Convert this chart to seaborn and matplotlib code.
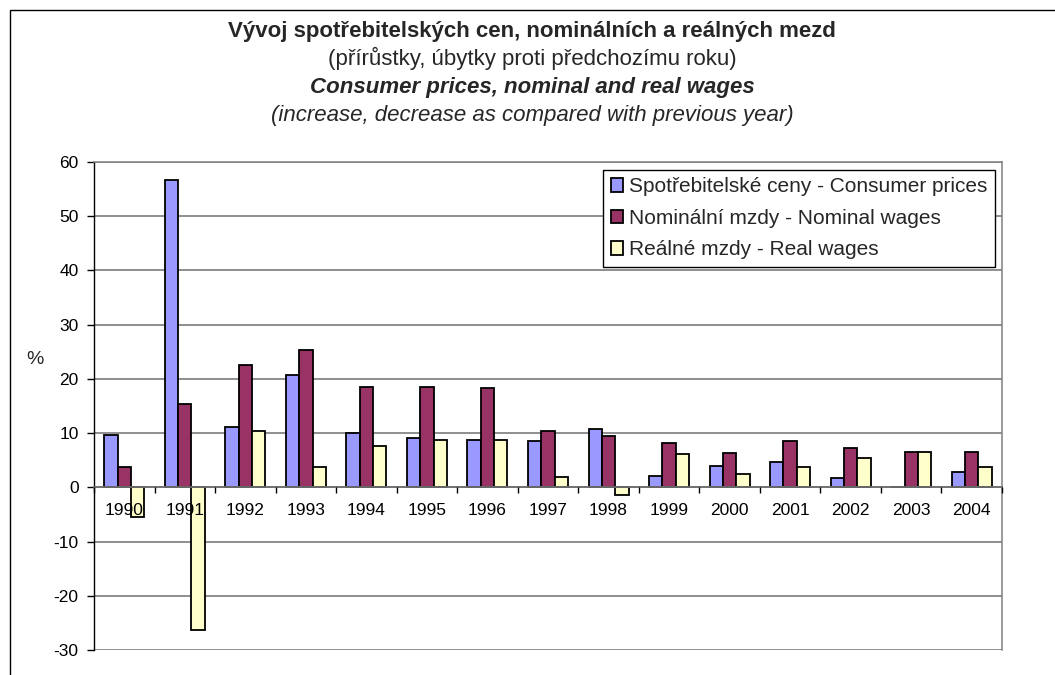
import matplotlib
matplotlib.use("Agg")
import matplotlib.pyplot as plt
import seaborn as sns
import pandas as pd
from matplotlib.patches import Rectangle
from matplotlib.ticker import FixedLocator

years = ["1990", "1991", "1992", "1993", "1994", "1995", "1996", "1997",
         "1998", "1999", "2000", "2001", "2002", "2003", "2004"]
consumer_prices = [9.7, 56.6, 11.1, 20.8, 10.0, 9.1, 8.8, 8.5, 10.7, 2.1, 3.9, 4.7, 1.8, 0.1, 2.8]
nominal_wages = [3.7, 15.4, 22.5, 25.3, 18.5, 18.5, 18.4, 10.3, 9.4, 8.2, 6.4, 8.5, 7.3, 6.6, 6.6]
real_wages = [-5.4, -26.4, 10.3, 3.7, 7.7, 8.7, 8.8, 1.9, -1.4, 6.2, 2.5, 3.8, 5.4, 6.5, 3.8]

series_names = ["Spotřebitelské ceny - Consumer prices",
                "Nominální mzdy - Nominal wages",
                "Reálné mzdy - Real wages"]
colors = ["#9999FF", "#993366", "#FFFFCC"]
yticks = [-30, -20, -10, 0, 10, 20, 30, 40, 50, 60]

df = pd.DataFrame({
    "year": years * 3,
    "value": consumer_prices + nominal_wages + real_wages,
    "series": [series_names[0]] * 15 + [series_names[1]] * 15 + [series_names[2]] * 15,
})

sns.set_theme(style="white")
plt.rcParams["font.family"] = ["Liberation Sans", "DejaVu Sans"]
plt.rcParams["axes.unicode_minus"] = False

fig = plt.figure(figsize=(10.55, 6.75), dpi=100)
W, H = 1055, 675
ax = fig.add_axes([94 / W, 1 - 650 / H, (1002 - 94) / W, (650 - 162) / H])

sns.barplot(data=df, x="year", y="value", hue="series", hue_order=series_names,
            order=years, palette=colors, edgecolor="black", linewidth=1.3,
            width=0.66, gap=0, errorbar=None, saturation=1, ax=ax, legend=True)

ax.set_ylim(-30, 60)
ax.set_xlim(-0.5, 14.5)
ax.set_axisbelow(True)
ax.xaxis.set_zorder(4)
ax.set_yticks(yticks)
ax.yaxis.grid(True, color="#707070", linewidth=1.1)
ax.xaxis.grid(False)
ax.set_xlabel("")
ax.set_ylabel("%", rotation=0, fontsize=14, labelpad=0, va="center")
ax.yaxis.set_label_coords(-0.065, (650 - 360) / 488)

for s in ["top", "right"]:
    ax.spines[s].set_color("#808080")
    ax.spines[s].set_linewidth(1.1)
ax.spines["left"].set_color("black")
ax.spines["left"].set_linewidth(1.0)
ax.spines["bottom"].set_position(("data", 0))
ax.spines["bottom"].set_color("#707070")
ax.spines["bottom"].set_linewidth(1.3)

ax.tick_params(axis="y", which="major", left=True, length=5, width=1, color="black",
               labelsize=12.5, pad=6, labelcolor="black")
ax.tick_params(axis="x", which="major", bottom=True, length=0, labelsize=12.5, pad=11,
               labelcolor="black")
ax.xaxis.set_minor_locator(FixedLocator([i + 0.5 for i in range(-1, 15)]))
ax.tick_params(axis="x", which="minor", bottom=True, length=4, width=1, color="black",
               direction="out")

handles, labels = ax.get_legend_handles_labels()
ax.legend(handles, labels, loc="upper right", bbox_to_anchor=(995 / W, 1 - 170 / H),
          bbox_transform=fig.transFigure, frameon=True, fancybox=False, framealpha=1,
          edgecolor="black", fontsize=15, handlelength=0.6, handleheight=0.6,
          handletextpad=0.3, labelspacing=0.6, borderpad=0.35, borderaxespad=0)
ax.get_legend().get_frame().set_linewidth(1.0)

cx = 532 / W
fig.text(cx, 1 - 32 / H, "Vývoj spotřebitelských cen, nominálních a reálných mezd",
         ha="center", va="center", fontsize=16, fontweight="bold")
fig.text(cx, 1 - 58 / H, "(přírůstky, úbytky proti předchozímu roku)",
         ha="center", va="center", fontsize=16)
fig.text(cx, 1 - 87 / H, "Consumer prices, nominal and real wages",
         ha="center", va="center", fontsize=16, fontweight="bold", style="italic")
fig.text(cx, 1 - 115 / H, "(increase, decrease as compared with previous year)",
         ha="center", va="center", fontsize=16, style="italic")

fig.patches.append(Rectangle((10 / W, -0.1), 1.2, 1 - 10 / H + 0.1,
                             transform=fig.transFigure, fill=False,
                             edgecolor="black", linewidth=1.0))

fig.savefig("out.png", dpi=100)
